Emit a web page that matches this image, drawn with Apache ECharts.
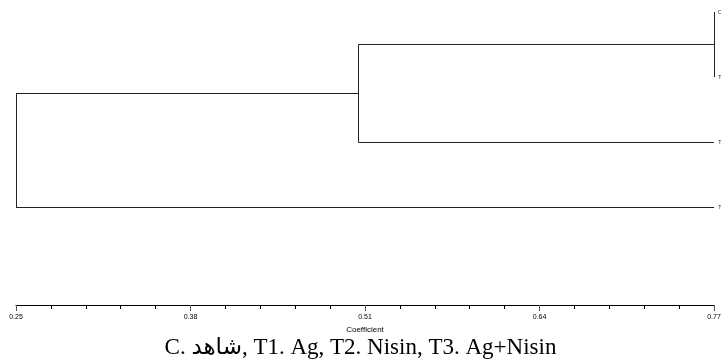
<!DOCTYPE html>
<html><head><meta charset="utf-8">
<script src="https://cdn.jsdelivr.net/npm/echarts@6/dist/echarts.min.js"></script>
<style>html,body{margin:0;padding:0;background:#fff}#c{width:721px;height:363px}</style>
</head><body><div id="c"></div>
<script>
// Leaves (top to bottom) and their coefficient position
const leaves = ['C', 'T1', 'T2', 'T3'];
const leafCoef = 0.77;
// Linkage: each merge joins node A and node B at a coefficient
// nodes 0..3 are leaves, 4.. are merges in order
const mergeA = [0, 4, 5];
const mergeB = [1, 2, 3];
const mergeCoef = [0.77, 0.505, 0.25];
// Axis ticks
const axisMin = 0.25, axisMax = 0.77, axisStep = 0.13;
const titleText = 'C. شاهد, T1. Ag, T2. Nisin, T3. Ag+Nisin';

// build node positions
const nodeX = leaves.map(() => leafCoef);
const nodeY = leaves.map((_, i) => i);
const segs = [];
for (let k = 0; k < mergeA.length; k++) {
  const a = mergeA[k], b = mergeB[k], h = mergeCoef[k];
  const ya = nodeY[a], yb = nodeY[b];
  segs.push({coords: [[nodeX[a], ya], [h, ya]]});
  segs.push({coords: [[nodeX[b], yb], [h, yb]]});
  segs.push({coords: [[h, ya], [h, yb]]});
  nodeX.push(h); nodeY.push((ya + yb) / 2);
}

const chart = echarts.init(document.getElementById('c'));
chart.setOption({
  animation: false,
  title: {text: titleText, left: 'center', top: 331,
    textStyle: {fontFamily: '"Liberation Serif","DejaVu Serif","DejaVu Sans",serif', fontSize: 23, fontWeight: 'normal', color: '#000'}},
  grid: {left: 16, right: 7, top: 12, bottom: 58, outerBoundsMode: 'none', containLabel: false},
  xAxis: {type: 'value', position: 'bottom', min: axisMin, max: axisMax, interval: axisStep,
    name: 'Coefficient', nameLocation: 'middle', nameGap: 19,
    nameTextStyle: {fontSize: 8, color: '#000', fontFamily: '"Liberation Sans",Arial,sans-serif'},
    axisLine: {show: true, onZero: false, lineStyle: {color: '#000', width: 1}},
    axisTick: {show: true, length: 6, lineStyle: {color: '#555'}},
    minorTick: {show: true, splitNumber: 5, length: 4, lineStyle: {color: '#000'}},
    axisLabel: {fontSize: 7, color: '#000', margin: 9, fontFamily: '"Liberation Sans",Arial,sans-serif',
      formatter: v => (+v).toFixed(2)},
    splitLine: {show: false}},
  yAxis: {type: 'value', inverse: true, min: 0, max: 4.5, interval: 1, position: 'right',
    axisLine: {show: false}, axisTick: {show: false}, splitLine: {show: false},
    axisLabel: {show: true, fontSize: 6, color: '#333', margin: 4,
      formatter: v => leaves[Math.round(v)] || ''}},
  series: [{type: 'lines', coordinateSystem: 'cartesian2d', polyline: false,
    lineStyle: {color: '#222', width: 1, opacity: 1}, silent: true,
    data: segs}]
});
</script></body></html>
